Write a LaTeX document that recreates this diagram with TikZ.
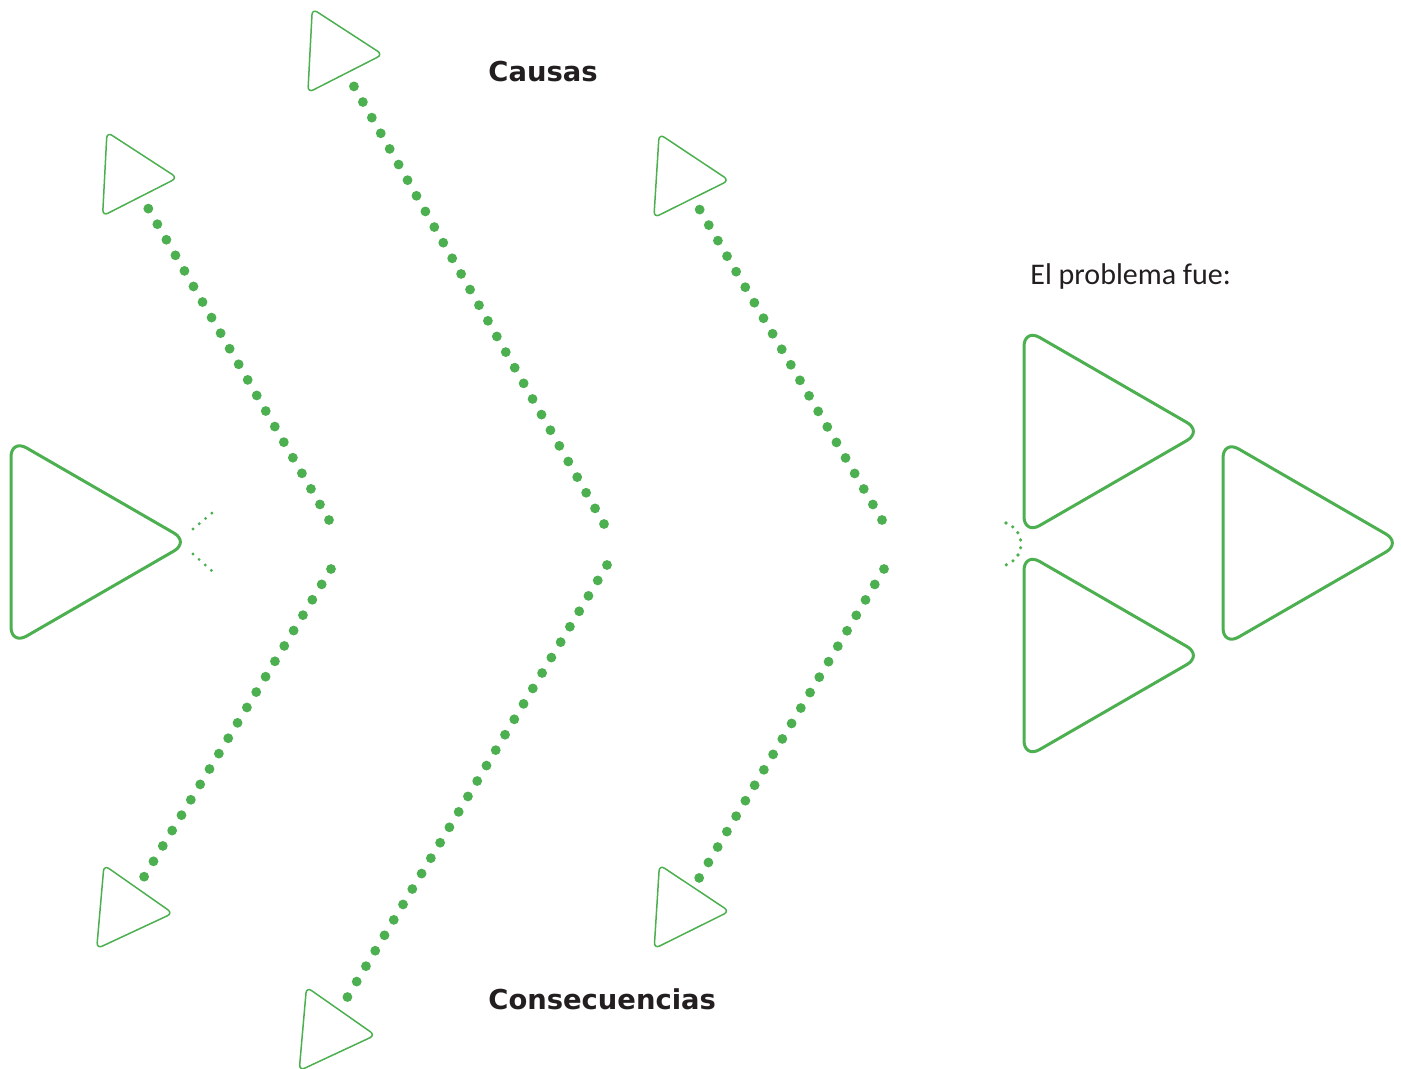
\documentclass[tikz,border=0pt]{standalone}
\usepackage{fontspec}
\setmainfont{DejaVu Sans}
\newfontfamily\problemfont{Carlito}
\usetikzlibrary{shapes.geometric}
\definecolor{leafgreen}{RGB}{76,175,80}
\definecolor{inkblack}{RGB}{35,31,32}

\begin{document}
\begin{tikzpicture}
  [x=0.5pt,y=0.5pt,
   bigtri/.style={regular polygon,regular polygon sides=3,shape border rotate=-90,draw=leafgreen,line width=1.5pt,rounded corners=9pt,minimum size=119pt,inner sep=0pt,outer sep=0pt},
   smalltri/.style={regular polygon,regular polygon sides=3,draw=leafgreen,line width=0.75pt,rounded corners=3pt,minimum size=48.5pt,inner sep=0pt,outer sep=0pt},
   dotline/.style={leafgreen,line width=4.9pt,line cap=round,dash pattern=on 0pt off 9pt,shorten >=5pt},
   tinydots/.style={leafgreen,line width=1.6pt,line cap=round,dash pattern=on 0pt off 4.1pt},
   arcdots/.style={leafgreen,line width=1.8pt,line cap=round,dash pattern=on 0pt off 3.9pt},
   headtext/.style={inkblack,inner sep=0pt,anchor=base west}]
  \useasboundingbox (0,0) rectangle (1401,-1069);

  % big triangles
  \node[bigtri] (head) at (70.5,-542) {};
  \node[bigtri] (prob1) at (1083.5,-431.5) {};
  \node[bigtri] (prob2) at (1083.5,-655.5) {};
  \node[bigtri] (prob3) at (1282.5,-543) {};

  % small triangles
  \node[smalltri,shape border rotate=-93] (s1) at (129,-175.3) {};
  \node[smalltri,shape border rotate=-93] (s2) at (334.3,-52) {};
  \node[smalltri,shape border rotate=-93.6] (s3) at (680.7,-177.3) {};
  \node[smalltri,shape border rotate=-95] (s4) at (124.5,-909) {};
  \node[smalltri,shape border rotate=-95] (s5) at (327,-1031) {};
  \node[smalltri,shape border rotate=-93.6] (s6) at (681,-908.3) {};

  % spine points
  \coordinate (j1) at (329,-520);
  \coordinate (j2) at (331,-569);
  \coordinate (j3) at (604,-524);
  \coordinate (j4) at (607,-565);
  \coordinate (j5) at (882,-520);
  \coordinate (j6) at (884,-569);

  \foreach \from/\to in {j1/s1,j2/s4,j3/s2,j4/s5,j5/s3,j6/s6}
    \draw[dotline] (\from) -- (\to);

  % little marks
  \coordinate (m1) at (193,-529);
  \coordinate (m2) at (212,-513);
  \coordinate (m3) at (193,-554);
  \coordinate (m4) at (212,-571);
  \coordinate (a1) at (1006,-523);
  \draw[tinydots] (m1) -- (m2);
  \draw[tinydots] (m3) -- (m4);
  \draw[arcdots] (a1) arc[start angle=71,end angle=-71,radius=22.2];

  % texts
  \node[headtext,font=\bfseries\fontsize{13.7}{16}\selectfont] (causas) at (488,-82) {Causas};
  \node[headtext,font=\bfseries\fontsize{13.7}{16}\selectfont] (consec) at (488,-1009) {Consecuencias};
  \node[headtext,font=\problemfont\fontsize{15}{18}\selectfont] (problema) at (1030,-285) {El problema fue:};

\end{tikzpicture}
\end{document}
